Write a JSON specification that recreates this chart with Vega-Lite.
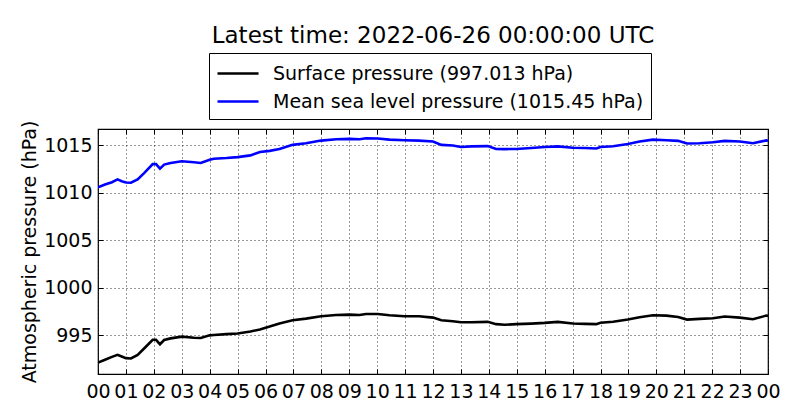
{
  "$schema": "https://vega.github.io/schema/vega-lite/v6.json",
  "width": 670,
  "height": 245,
  "autosize": {"type": "none"},
  "padding": {"left": 98, "top": 129, "right": 32, "bottom": 46},
  "background": "white",
  "title": {
    "text": "Latest time: 2022-06-26 00:00:00 UTC",
    "font": "DejaVu Sans",
    "fontSize": 23,
    "fontWeight": "normal",
    "color": "black",
    "anchor": "middle",
    "offset": 5
  },
  "data": {
    "values": [
      {"h": 0.0, "sp": 992.1, "msl": 1010.55},
      {"h": 0.25, "sp": 992.4, "msl": 1010.85},
      {"h": 0.5, "sp": 992.7, "msl": 1011.1},
      {"h": 0.7, "sp": 992.92, "msl": 1011.39},
      {"h": 0.85, "sp": 992.74, "msl": 1011.2},
      {"h": 1.0, "sp": 992.57, "msl": 1011.07},
      {"h": 1.18, "sp": 992.54, "msl": 1011.04},
      {"h": 1.42, "sp": 992.92, "msl": 1011.38},
      {"h": 1.66, "sp": 993.61, "msl": 1012.08},
      {"h": 1.96, "sp": 994.5, "msl": 1013.0},
      {"h": 2.08, "sp": 994.5, "msl": 1013.0},
      {"h": 2.22, "sp": 994.03, "msl": 1012.53},
      {"h": 2.37, "sp": 994.48, "msl": 1012.95},
      {"h": 2.6, "sp": 994.65, "msl": 1013.12},
      {"h": 3.0, "sp": 994.83, "msl": 1013.3},
      {"h": 3.44, "sp": 994.72, "msl": 1013.2},
      {"h": 3.68, "sp": 994.69, "msl": 1013.12},
      {"h": 4.0, "sp": 994.97, "msl": 1013.47},
      {"h": 4.15, "sp": 995.0, "msl": 1013.56},
      {"h": 4.6, "sp": 995.1, "msl": 1013.64},
      {"h": 5.0, "sp": 995.17, "msl": 1013.74},
      {"h": 5.46, "sp": 995.38, "msl": 1013.92},
      {"h": 5.8, "sp": 995.59, "msl": 1014.27},
      {"h": 6.15, "sp": 995.9, "msl": 1014.4},
      {"h": 6.5, "sp": 996.21, "msl": 1014.6},
      {"h": 6.97, "sp": 996.56, "msl": 1015.03},
      {"h": 7.45, "sp": 996.73, "msl": 1015.2},
      {"h": 7.99, "sp": 996.98, "msl": 1015.48},
      {"h": 8.53, "sp": 997.11, "msl": 1015.62},
      {"h": 9.0, "sp": 997.15, "msl": 1015.66},
      {"h": 9.37, "sp": 997.11, "msl": 1015.62},
      {"h": 9.6, "sp": 997.22, "msl": 1015.73},
      {"h": 10.02, "sp": 997.22, "msl": 1015.7},
      {"h": 10.44, "sp": 997.08, "msl": 1015.58},
      {"h": 10.98, "sp": 996.98, "msl": 1015.52},
      {"h": 11.5, "sp": 996.98, "msl": 1015.48},
      {"h": 12.0, "sp": 996.84, "msl": 1015.38},
      {"h": 12.3, "sp": 996.56, "msl": 1015.03},
      {"h": 12.71, "sp": 996.46, "msl": 1014.97},
      {"h": 13.0, "sp": 996.35, "msl": 1014.8},
      {"h": 13.37, "sp": 996.35, "msl": 1014.87},
      {"h": 13.96, "sp": 996.39, "msl": 1014.9},
      {"h": 14.26, "sp": 996.15, "msl": 1014.6},
      {"h": 14.56, "sp": 996.08, "msl": 1014.58},
      {"h": 14.98, "sp": 996.15, "msl": 1014.6},
      {"h": 15.52, "sp": 996.21, "msl": 1014.7},
      {"h": 16.0, "sp": 996.28, "msl": 1014.8},
      {"h": 16.47, "sp": 996.39, "msl": 1014.87},
      {"h": 17.01, "sp": 996.21, "msl": 1014.72},
      {"h": 17.43, "sp": 996.18, "msl": 1014.7},
      {"h": 17.85, "sp": 996.15, "msl": 1014.65},
      {"h": 18.0, "sp": 996.3, "msl": 1014.8},
      {"h": 18.45, "sp": 996.4, "msl": 1014.88},
      {"h": 18.98, "sp": 996.63, "msl": 1015.13},
      {"h": 19.4, "sp": 996.88, "msl": 1015.38},
      {"h": 19.88, "sp": 997.08, "msl": 1015.58},
      {"h": 20.36, "sp": 997.05, "msl": 1015.52},
      {"h": 20.78, "sp": 996.91, "msl": 1015.45},
      {"h": 21.1, "sp": 996.63, "msl": 1015.17},
      {"h": 21.55, "sp": 996.7, "msl": 1015.2},
      {"h": 22.03, "sp": 996.77, "msl": 1015.3},
      {"h": 22.45, "sp": 996.95, "msl": 1015.45},
      {"h": 22.99, "sp": 996.84, "msl": 1015.38},
      {"h": 23.46, "sp": 996.67, "msl": 1015.2},
      {"h": 23.94, "sp": 997.05, "msl": 1015.5},
      {"h": 24.0, "sp": 997.013, "msl": 1015.45}
    ]
  },
  "transform": [
    {"fold": ["sp", "msl"], "as": ["series", "p"]}
  ],
  "layer": [
    {
      "mark": {"type": "line", "strokeWidth": 2.6, "clip": true},
      "encoding": {
        "x": {
          "field": "h",
          "type": "quantitative",
          "scale": {"domain": [0, 24], "nice": false, "zero": false},
          "axis": {
            "title": null,
            "values": [0, 1, 2, 3, 4, 5, 6, 7, 8, 9, 10, 11, 12, 13, 14, 15, 16, 17, 18, 19, 20, 21, 22, 23, 24],
            "labelExpr": "(datum.value % 24 < 10 ? '0' : '') + (datum.value % 24)",
            "labelPadding": 13,
            "labelOverlap": false,
            "labelFlush": false
          }
        },
        "y": {
          "field": "p",
          "type": "quantitative",
          "scale": {"domain": [990.9, 1016.7], "nice": false, "zero": false},
          "axis": {
            "title": "Atmospheric pressure (hPa)",
            "values": [995, 1000, 1005, 1010, 1015],
            "format": "d",
            "labelPadding": 11,
            "titlePadding": 4
          }
        },
        "color": {
          "field": "series",
          "type": "nominal",
          "scale": {"domain": ["sp", "msl"], "range": ["black", "#0000ff"]},
          "legend": {
            "orient": "none",
            "legendX": 111,
            "legendY": -76,
            "title": null,
            "labelExpr": "datum.label == 'sp' ? 'Surface pressure (997.013 hPa)' : 'Mean sea level pressure (1015.45 hPa)'"
          }
        }
      }
    },
    {
      "mark": {"type": "line", "strokeOpacity": 0},
      "encoding": {
        "x": {
          "field": "h",
          "type": "quantitative",
          "axis": {
            "orient": "top",
            "title": null,
            "labels": false,
            "grid": false,
            "values": [0, 1, 2, 3, 4, 5, 6, 7, 8, 9, 10, 11, 12, 13, 14, 15, 16, 17, 18, 19, 20, 21, 22, 23, 24]
          }
        },
        "y": {
          "field": "p",
          "type": "quantitative",
          "axis": {
            "orient": "right",
            "title": null,
            "labels": false,
            "grid": false,
            "values": [995, 1000, 1005, 1010, 1015]
          }
        },
        "detail": {"field": "series"}
      }
    }
  ],
  "resolve": {"axis": {"x": "independent", "y": "independent"}},
  "config": {
    "view": {"stroke": "black", "strokeWidth": 1.2},
    "axis": {
      "domain": false,
      "grid": true,
      "gridColor": "black",
      "gridDash": [1, 3],
      "gridWidth": 0.8,
      "gridOpacity": 1,
      "tickColor": "black",
      "tickSize": -5,
      "tickWidth": 1,
      "labelFont": "DejaVu Sans",
      "labelFontSize": 19,
      "labelColor": "black",
      "titleFont": "DejaVu Sans",
      "titleFontSize": 19,
      "titleFontWeight": "normal",
      "titleColor": "black"
    },
    "legend": {
      "strokeColor": "black",
      "fillColor": "white",
      "padding": 7,
      "cornerRadius": 0,
      "labelFont": "DejaVu Sans",
      "labelFontSize": 19,
      "labelColor": "black",
      "labelLimit": 600,
      "labelOffset": 30,
      "symbolType": "M-1,0L2.42,0",
      "symbolSize": 576,
      "symbolStrokeWidth": 2.5,
      "rowPadding": 4
    }
  }
}
